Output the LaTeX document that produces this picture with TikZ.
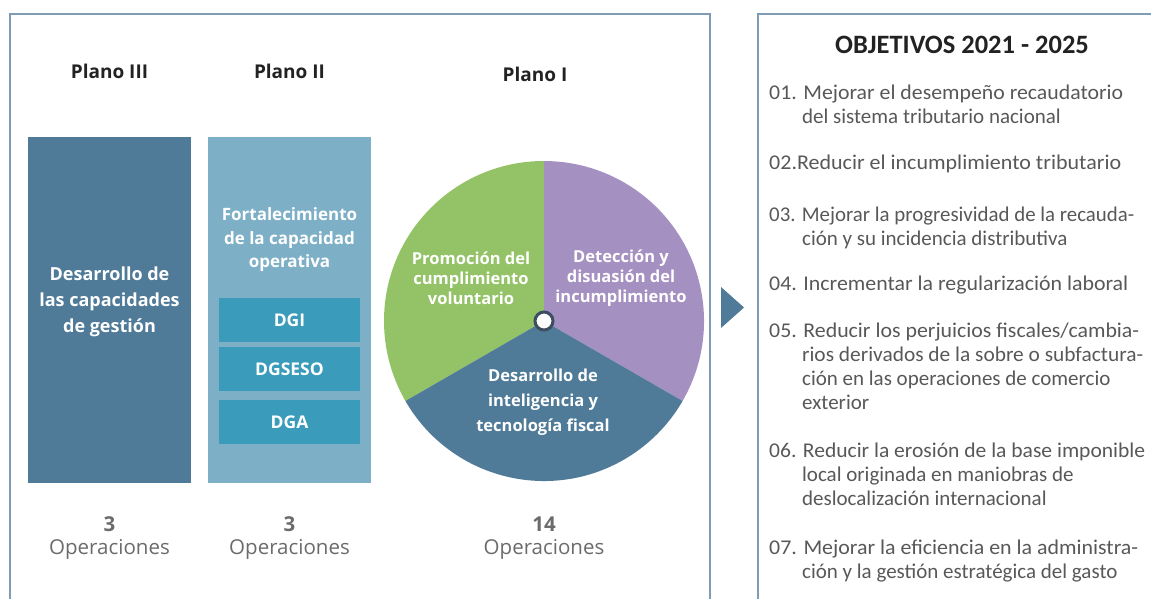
\documentclass[tikz,border=0pt]{standalone}
\usepackage{graphicx}
\usepackage{fontspec}
\setmainfont{Open Sans}
\newfontfamily\carl{Carlito}
\definecolor{framec}{HTML}{7F9CB6}
\definecolor{dblue}{HTML}{4F7A98}
\definecolor{lblue}{HTML}{7DAFC7}
\definecolor{teal}{HTML}{3A9BBB}
\definecolor{pgreen}{HTML}{93C366}
\definecolor{ppurple}{HTML}{A590C2}
\definecolor{titlec}{HTML}{222222}
\definecolor{grayc}{HTML}{6B6B6B}
\definecolor{listc}{HTML}{585858}
\definecolor{hubc}{HTML}{3D4E60}
\newcommand\objtab[1]{\begin{tabular}[t]{@{}l@{}}#1\end{tabular}}
\newcommand\fitto[2]{\resizebox{#1}{\height}{#2}}
\begin{document}
\begin{tikzpicture}[x=1pt,y=-1pt,
  lbl/.style={font=\bfseries\fontsize{19}{23}\selectfont, text=titlec, inner sep=0pt},
  wtxt/.style={text=white, font=\bfseries\fontsize{17}{20}\selectfont, align=center, inner sep=0pt},
  blk/.style={inner sep=0pt, draw=none},
  sub/.style={blk, fill=teal, minimum width=141pt, minimum height=44pt},
  cnt/.style={text=grayc, align=center, inner sep=0pt, font=\fontsize{20.5}{23}\selectfont},
  obj/.style={anchor=base west, inner sep=0pt, text=listc, font=\carl\fontsize{21}{24}\selectfont},
  frame/.style={draw=framec, line width=1.8pt}
]
\useasboundingbox (0,0) rectangle (1151,598);
% frames
\draw[frame] (10,600) -- (10,14) -- (710,14) -- (710,600);
\draw[frame] (758,600) -- (758,14) -- (1160,14);
% plan titles
\node[lbl] (t3) at (109.5,71) {Plano III};
\node[lbl] (t2) at (289.5,71) {Plano II};
\node[lbl] (t1) at (535,74) {Plano I};
% Plano III
\node[blk, fill=dblue, minimum width=163pt, minimum height=346pt] (p3) at (109.5,310) {};
\node[wtxt, font=\bfseries\fontsize{18}{26}\selectfont] (p3t) at (109.5,302) {Desarrollo de\\las capacidades\\de gestión};
% Plano II
\node[blk, fill=lblue, minimum width=163pt, minimum height=346pt] (p2) at (289.5,310) {};
\node[wtxt, font=\bfseries\fontsize{17}{23.5}\selectfont] (p2t) at (289.5,240) {Fortalecimiento\\de la capacidad\\operativa};
\node[sub] (dgi) at (289.5,320) {};
\node[sub] (dgseso) at (289.5,369) {};
\node[sub] (dga) at (289.5,422) {};
\node[wtxt, font=\bfseries\fontsize{17.5}{20}\selectfont] at (dgi) {DGI};
\node[wtxt, font=\bfseries\fontsize{17.5}{20}\selectfont] at (dgseso) {DGSESO};
\node[wtxt, font=\bfseries\fontsize{17.5}{20}\selectfont] at (dga) {DGA};
% Plano I pie
\begin{scope}[shift={(544,321)}, yscale=-1]
  \fill[pgreen] (0,0) -- (90:160) arc[start angle=90, end angle=210, radius=160] -- cycle;
  \fill[ppurple] (0,0) -- (-30:160) arc[start angle=-30, end angle=90, radius=160] -- cycle;
  \fill[dblue] (0,0) -- (210:160) arc[start angle=210, end angle=330, radius=160] -- cycle;
\end{scope}
\node[circle, fill=white, draw=hubc, line width=3pt, minimum size=18pt, inner sep=0pt] (hub) at (544,321) {};
\node[wtxt, font=\bfseries\fontsize{16.5}{20}\selectfont] (s1) at (471,278) {Promoción del\\cumplimiento\\voluntario};
\node[wtxt, font=\bfseries\fontsize{16.5}{20}\selectfont] (s2) at (621,278) {Detección y\\disuasión del\\incumplimiento};
\node[wtxt, font=\bfseries\fontsize{16.5}{25}\selectfont] (s3) at (543,402) {Desarrollo de\\inteligencia y\\tecnología fiscal};
% counts
\node[cnt] (c3) at (109.5,538) {\textbf{3}\\Operaciones};
\node[cnt] (c2) at (289.5,538) {\textbf{3}\\Operaciones};
\node[cnt] (c1) at (544,538) {\textbf{14}\\Operaciones};
% arrow
\fill[dblue] (721,287) -- (744,307.5) -- (721,328) -- cycle;
% objectives
\node[inner sep=0pt, text=titlec, font=\carl\bfseries\fontsize{26.5}{30}\selectfont] (ot) at (962,45) {OBJETIVOS 2021 - 2025};
\node[obj] (o1) at (769,99) {\objtab{\fitto{354pt}{01. Mejorar el desempeño recaudatorio}\\\phantom{01. }del sistema tributario nacional}};
\node[obj] (o2) at (769,169) {\objtab{\fitto{352pt}{02.Reducir el incumplimiento tributario}}};
\node[obj] (o3) at (769,221) {\objtab{\fitto{365pt}{03. Mejorar la progresividad de la recauda-}\\\phantom{03. }ción y su incidencia distributiva}};
\node[obj] (o4) at (769,290) {\objtab{\fitto{359pt}{04. Incrementar la regularización laboral}}};
\node[obj] (o5) at (769,337) {\objtab{\fitto{370pt}{05. Reducir los perjuicios fiscales/cambia-}\\\phantom{05. }\fitto{341pt}{rios derivados de la sobre o subfactura-}\\\phantom{05. }ción en las operaciones de comercio\\\phantom{05. }exterior}};
\node[obj] (o6) at (769,457) {\objtab{\fitto{376pt}{06. Reducir la erosión de la base imponible}\\\phantom{06. }local originada en maniobras de\\\phantom{06. }deslocalización internacional}};
\node[obj] (o7) at (769,554) {\objtab{\fitto{369pt}{07. Mejorar la eficiencia en la administra-}\\\phantom{07. }ción y la gestión estratégica del gasto}};
\end{tikzpicture}
\end{document}
